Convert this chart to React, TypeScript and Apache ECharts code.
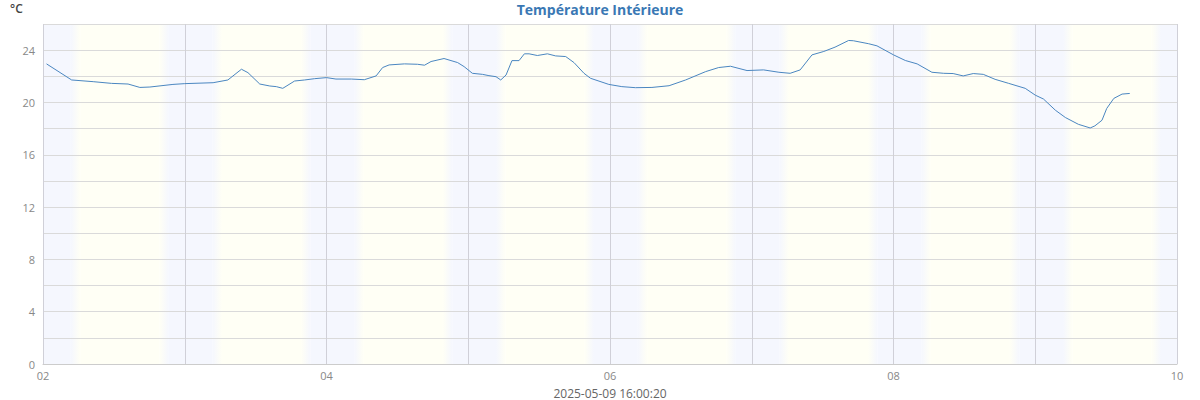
import React, { useEffect, useRef } from "react";
import * as echarts from "echarts";

// hours since 2025-05-02 00:00
const hours = [0.6, 4.85, 8.5, 11.6, 14.4, 16.4, 18.1, 22, 24, 28.8, 31.3, 33.6, 34.7, 36.7, 38.4, 39.5, 40.6, 42.6, 44.3, 46, 48, 49.6, 52.2, 54.4, 56.4, 57.5, 58.6, 61.2, 63.4, 64.6, 65.7, 67.9, 70.2, 71.3, 72.7, 74.4, 75.5, 76.7, 77.5, 78.4, 79.4, 80.6, 81.5, 82.3, 83.7, 85.4, 86.8, 88.5, 89.9, 91.6, 92.7, 95.8, 98, 100.3, 103.1, 106, 108.8, 112.2, 114.4, 116.4, 119.2, 122, 124.6, 126.5, 128.2, 130.2, 132.2, 134.1, 136.4, 137.2, 139.8, 141.2, 144, 146, 148, 150.5, 152.5, 154.1, 155.8, 157.5, 159.2, 161.2, 163.5, 166.3, 168, 169.4, 171.4, 173.1, 175.3, 177.3, 178.1, 179.3, 180.1, 181.3, 182.7, 184];
const temps = [22.95, 21.72, 21.59, 21.46, 21.41, 21.15, 21.18, 21.38, 21.44, 21.51, 21.72, 22.54, 22.28, 21.41, 21.26, 21.21, 21.08, 21.64, 21.72, 21.82, 21.9, 21.79, 21.79, 21.74, 22.03, 22.67, 22.87, 22.95, 22.92, 22.85, 23.13, 23.36, 23.05, 22.74, 22.23, 22.15, 22.05, 21.97, 21.72, 22.1, 23.2, 23.2, 23.72, 23.72, 23.59, 23.72, 23.56, 23.51, 23.05, 22.23, 21.85, 21.38, 21.21, 21.13, 21.15, 21.28, 21.72, 22.36, 22.67, 22.77, 22.44, 22.49, 22.31, 22.23, 22.49, 23.64, 23.9, 24.23, 24.74, 24.72, 24.49, 24.33, 23.64, 23.21, 22.95, 22.31, 22.23, 22.21, 22.03, 22.21, 22.15, 21.77, 21.46, 21.08, 20.56, 20.26, 19.41, 18.85, 18.33, 18.05, 18.21, 18.64, 19.54, 20.31, 20.64, 20.69];

const firstDay = 2;
const dayCount = 8;
const sunriseHour = 5.5;
const sunsetHour = 20.5;
const titleText = "Température Intérieure";
const unitText = "°C";
const stampText = "2025-05-09 16:00:20";

const NIGHT = "#f5f7fe";
const DAY = "#fffff5";

function grad(a: string, b: string) {
  return {
    type: "linear", x: 0, y: 0, x2: 1, y2: 0,
    colorStops: [{ offset: 0, color: a }, { offset: 1, color: b }],
  };
}

function buildBands() {
  const areas: any[] = [];
  const half = 0.8;
  const end = dayCount * 24;
  areas.push([{ xAxis: 0, itemStyle: { color: NIGHT } }, { xAxis: sunriseHour - half }]);
  for (let d = 0; d < dayCount; d++) {
    const sr = d * 24 + sunriseHour;
    const ss = d * 24 + sunsetHour;
    areas.push([{ xAxis: sr - half, itemStyle: { color: grad(NIGHT, DAY) } }, { xAxis: sr + half }]);
    areas.push([{ xAxis: sr + half, itemStyle: { color: DAY } }, { xAxis: ss - half }]);
    areas.push([{ xAxis: ss - half, itemStyle: { color: grad(DAY, NIGHT) } }, { xAxis: ss + half }]);
    const nextSr = Math.min((d + 1) * 24 + sunriseHour - half, end);
    areas.push([{ xAxis: ss + half, itemStyle: { color: NIGHT } }, { xAxis: nextSr }]);
  }
  return areas;
}

export default function App() {
  const ref = useRef<HTMLDivElement>(null);
  useEffect(() => {
    document.body.style.margin = "0";
    if (!ref.current) return;
    const chart = echarts.init(ref.current, null, { renderer: "svg" });
    const data = hours.map((h, i) => [h, temps[i]]);
    chart.setOption({
      animation: false,
      textStyle: { fontFamily: "Open Sans" },
      title: {
        text: titleText,
        left: "center",
        top: 2,
        padding: 0,
        textStyle: { color: "#3a78b4", fontSize: 14, fontWeight: "bold", fontFamily: "Open Sans" },
      },
      graphic: [
        {
          type: "text",
          left: 10,
          top: 2,
          style: { text: unitText, fill: "#444", font: "600 12px 'Open Sans'" },
        },
      ],
      grid: { left: 43, right: 23, top: 24, bottom: 36, containLabel: false, outerBoundsMode: "none" },
      xAxis: {
        type: "value",
        min: 0,
        max: dayCount * 24,
        interval: 24,
        name: stampText,
        nameLocation: "middle",
        nameGap: 23,
        nameTextStyle: { color: "#666", fontSize: 12, fontFamily: "Open Sans" },
        axisLine: { show: true, lineStyle: { color: "#ccc" } },
        axisTick: { show: false },
        axisLabel: {
          color: "#888",
          fontSize: 11,
          margin: 6,
          formatter: (v: number) => {
            const day = firstDay + Math.round(v / 24);
            return day % 2 === 0 ? String(day).padStart(2, "0") : "";
          },
        },
        splitLine: { show: true, lineStyle: { color: "#d0d0d8", width: 1 } },
      },
      yAxis: {
        type: "value",
        min: 0,
        max: 26,
        interval: 2,
        axisLine: { show: false },
        axisTick: { show: false },
        axisLabel: {
          color: "#888",
          fontSize: 11,
          margin: 8,
          formatter: (v: number) => (v % 4 === 0 ? String(v) : ""),
        },
        splitLine: { show: true, lineStyle: { color: "#dadada", width: 1 } },
      },
      series: [
        {
          type: "line",
          data,
          z: -1,
          silent: true,
          symbol: "none",
          lineStyle: { opacity: 0 },
          markArea: { silent: true, z: -1, data: buildBands() },
        },
        {
          type: "line",
          data,
          showSymbol: false,
          symbol: "none",
          lineStyle: { color: "#4a86c0", width: 1 },
          itemStyle: { color: "#4a86c0" },
          z: 3,
        },
      ],
    });
    return () => chart.dispose();
  }, []);
  return <div ref={ref} style={{ width: 1200, height: 400 }} />;
}
